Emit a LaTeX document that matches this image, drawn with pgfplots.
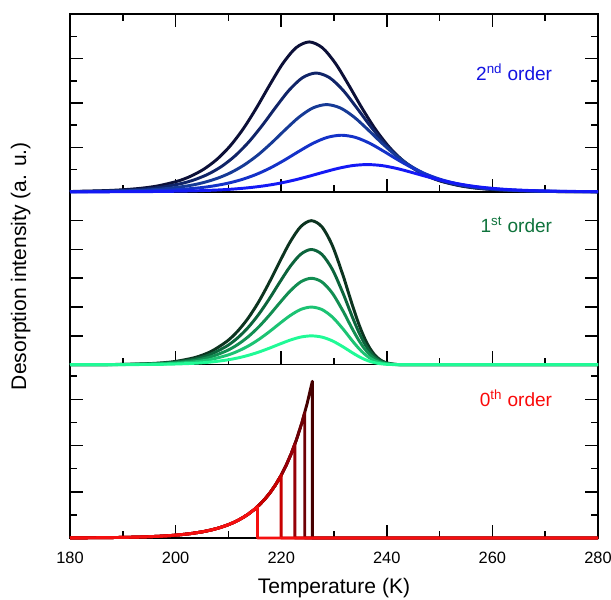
\documentclass[border=0pt]{standalone}
\usepackage{fontspec}
\setmainfont{Liberation Sans}
\usepackage{pgfplots}
\pgfplotsset{compat=1.18}
\definecolor{b1}{RGB}{12,16,56}
\definecolor{b2}{RGB}{16,36,104}
\definecolor{b3}{RGB}{22,58,150}
\definecolor{b4}{RGB}{20,50,200}
\definecolor{b5}{RGB}{20,25,245}
\definecolor{g5}{RGB}{12,52,32}
\definecolor{g4}{RGB}{12,100,60}
\definecolor{g3}{RGB}{18,142,82}
\definecolor{g2}{RGB}{28,195,115}
\definecolor{g1}{RGB}{32,250,150}
\definecolor{r5}{RGB}{70,0,0}
\definecolor{r4}{RGB}{110,0,5}
\definecolor{r3}{RGB}{150,0,8}
\definecolor{r2}{RGB}{200,0,0}
\definecolor{r1}{RGB}{245,15,15}
\definecolor{lblue}{RGB}{20,20,225}
\definecolor{lgreen}{RGB}{15,115,60}
\definecolor{lred}{RGB}{250,10,10}
\begin{document}
\begin{tikzpicture}
\pgfplotsset{
  tpd/.style={scale only axis, width=396pt, xmin=180, xmax=280, clip=false,
    xtick={180,200,...,280}, minor xtick={190,210,...,270},
    major tick length=10pt, minor tick length=5pt,
    tick align=inside, ytick pos=both, yticklabels={},
    axis line style={line width=1.2pt},
    every tick/.style={black, line width=1.2pt},
    /pgf/number format/assume math mode=true,
    tick label style={font=\fontsize{12.3}{14}\selectfont},
    every axis plot/.append style={line width=2.2pt, line join=round}},
}
% ---------------- bottom: 0th order
\begin{axis}[tpd, name=bot, at={(0,0)}, anchor=south west, height=130pt,
  ymin=0, ymax=7.5, ytick={2,4,6}, minor ytick={1,3,5,7}, xtick pos=bottom,
  xticklabel style={yshift=-7.3pt},
  xlabel={Temperature (K)},
  xlabel style={font=\fontsize{15.8}{18}\selectfont, at={(axis description cs:0.5,0)}, anchor=base, yshift=-41.25pt}]
\coordinate (O) at (rel axis cs:0,0);
\addplot[r5, sharp plot] coordinates {(180,0.0055) (182.9,0.0087) (185.9,0.0138) (188.9,0.0219) (190.9,0.0299) (192.9,0.0407) (194.9,0.0555) (196.9,0.0757) (198.9,0.1032) (200.9,0.1407) (202.9,0.1919) (204.9,0.2616) (205.9,0.3054) (206.9,0.3566) (207.9,0.4164) (208.9,0.4863) (209.9,0.5678) (210.9,0.6630) (211.9,0.7741) (212.9,0.9039) (213.9,1.0554) (214.9,1.2324) (215.9,1.4390) (216.9,1.6803) (217.9,1.9620) (218.9,2.2909) (219.9,2.6750) (220.9,3.1235) (221.9,3.6472) (222.9,4.2587) (223.9,4.9727) (224.9,5.8065) (225.9,6.78) (225.9,0) (280,0)};
\addplot[r4, sharp plot] coordinates {(180,0.0055) (182.9,0.0087) (185.9,0.0138) (188.9,0.0219) (190.9,0.0299) (192.9,0.0407) (194.9,0.0555) (196.9,0.0757) (198.9,0.1032) (200.9,0.1407) (202.9,0.1919) (204.9,0.2616) (205.9,0.3054) (206.9,0.3566) (207.9,0.4164) (208.9,0.4863) (209.9,0.5678) (210.9,0.6630) (211.9,0.7741) (212.9,0.9039) (213.9,1.0554) (214.9,1.2324) (215.9,1.4390) (216.9,1.6803) (217.9,1.9620) (218.9,2.2909) (219.9,2.6750) (220.9,3.1235) (221.9,3.6472) (222.9,4.2587) (223.9,4.9727) (224.46,5.424) (224.46,0) (280,0)};
\addplot[r3, sharp plot] coordinates {(180,0.0055) (182.9,0.0087) (185.9,0.0138) (188.9,0.0219) (190.9,0.0299) (192.9,0.0407) (194.9,0.0555) (196.9,0.0757) (198.9,0.1032) (200.9,0.1407) (202.9,0.1919) (204.9,0.2616) (205.9,0.3054) (206.9,0.3566) (207.9,0.4164) (208.9,0.4863) (209.9,0.5678) (210.9,0.6630) (211.9,0.7741) (212.9,0.9039) (213.9,1.0554) (214.9,1.2324) (215.9,1.4390) (216.9,1.6803) (217.9,1.9620) (218.9,2.2909) (219.9,2.6750) (220.9,3.1235) (221.9,3.6472) (222.604,4.068) (222.604,0) (280,0)};
\addplot[r2, sharp plot] coordinates {(180,0.0055) (182.9,0.0087) (185.9,0.0138) (188.9,0.0219) (190.9,0.0299) (192.9,0.0407) (194.9,0.0555) (196.9,0.0757) (198.9,0.1032) (200.9,0.1407) (202.9,0.1919) (204.9,0.2616) (205.9,0.3054) (206.9,0.3566) (207.9,0.4164) (208.9,0.4863) (209.9,0.5678) (210.9,0.6630) (211.9,0.7741) (212.9,0.9039) (213.9,1.0554) (214.9,1.2324) (215.9,1.4390) (216.9,1.6803) (217.9,1.9620) (218.9,2.2909) (219.9,2.6750) (219.988,2.712) (219.988,0) (280,0)};
\addplot[r1, sharp plot] coordinates {(180,0.0055) (182.9,0.0087) (185.9,0.0138) (188.9,0.0219) (190.9,0.0299) (192.9,0.0407) (194.9,0.0555) (196.9,0.0757) (198.9,0.1032) (200.9,0.1407) (202.9,0.1919) (204.9,0.2616) (205.9,0.3054) (206.9,0.3566) (207.9,0.4164) (208.9,0.4863) (209.9,0.5678) (210.9,0.6630) (211.9,0.7741) (212.9,0.9039) (213.9,1.0554) (214.9,1.2324) (215.517,1.356) (215.517,0) (280,0)};
\node[anchor=base east, text=lred, font=\fontsize{14.3}{16}\selectfont] at (rel axis cs:0.922,0.757) {0\textsuperscript{th} order};
\end{axis}
% ---------------- middle: 1st order
\begin{axis}[tpd, name=mid, at={(bot.north west)}, anchor=south west, height=129.6pt,
  ymin=0, ymax=6, ytick={1,2,3,4,5}, xtick pos=bottom, xticklabels={},
  ylabel={Desorption intensity (a. u.)},
  ylabel style={font=\fontsize{15.8}{18}\selectfont, at={(axis description cs:-0.0936,0.57)}, anchor=center, rotate=0}]
\addplot[g5, smooth] coordinates {(180,0) (185.7,0.003) (190.7,0.0128) (195.7,0.0427) (199.7,0.106) (203.7,0.25) (206.7,0.458) (209.7,0.8085) (211.7,1.1525) (213.7,1.6045) (215.7,2.1715) (217.7,2.842) (219.7,3.5695) (221.7,4.2645) (223.7,4.793) (225.7,5) (227.7,4.789) (229.7,4.132) (231.7,3.105) (232.7,2.5215) (233.7,1.9435) (234.7,1.4105) (235.7,0.9555) (236.7,0.5975) (237.7,0.341) (238.7,0.175) (239.7,0.0795) (241.2,0.0185) (242.7,0.003) (245.7,0) (280,0)};
\addplot[g4, smooth] coordinates {(180,0) (185.7,0.0024) (190.7,0.0102) (195.7,0.0342) (199.7,0.0848) (203.7,0.20) (206.7,0.3664) (209.7,0.6468) (211.7,0.922) (213.7,1.2836) (215.7,1.7372) (217.7,2.2736) (219.7,2.8556) (221.7,3.4116) (223.7,3.8344) (225.7,4) (227.7,3.8312) (229.7,3.3056) (231.7,2.484) (232.7,2.0172) (233.7,1.5548) (234.7,1.1284) (235.7,0.7644) (236.7,0.478) (237.7,0.2728) (238.7,0.14) (239.7,0.0636) (241.2,0.0148) (242.7,0.0024) (245.7,0) (280,0)};
\addplot[g3, smooth] coordinates {(180,0) (185.7,0.0018) (190.7,0.0077) (195.7,0.0256) (199.7,0.0636) (203.7,0.15) (206.7,0.2748) (209.7,0.4851) (211.7,0.6915) (213.7,0.9627) (215.7,1.3029) (217.7,1.7052) (219.7,2.1417) (221.7,2.5587) (223.7,2.8758) (225.7,3) (227.7,2.8734) (229.7,2.4792) (231.7,1.863) (232.7,1.5129) (233.7,1.1661) (234.7,0.8463) (235.7,0.5733) (236.7,0.3585) (237.7,0.2046) (238.7,0.105) (239.7,0.0477) (241.2,0.0111) (242.7,0.0018) (245.7,0) (280,0)};
\addplot[g2, smooth] coordinates {(180,0) (185.7,0.0012) (190.7,0.0051) (195.7,0.0171) (199.7,0.0424) (203.7,0.10) (206.7,0.1832) (209.7,0.3234) (211.7,0.461) (213.7,0.6418) (215.7,0.8686) (217.7,1.1368) (219.7,1.4278) (221.7,1.7058) (223.7,1.9172) (225.7,2) (227.7,1.9156) (229.7,1.6528) (231.7,1.242) (232.7,1.0086) (233.7,0.7774) (234.7,0.5642) (235.7,0.3822) (236.7,0.239) (237.7,0.1364) (238.7,0.07) (239.7,0.0318) (241.2,0.0074) (242.7,0.0012) (245.7,0) (280,0)};
\addplot[g1, smooth] coordinates {(180,0) (185.7,0.0006) (190.7,0.0026) (195.7,0.0085) (199.7,0.0212) (203.7,0.05) (206.7,0.0916) (209.7,0.1617) (211.7,0.2305) (213.7,0.3209) (215.7,0.4343) (217.7,0.5684) (219.7,0.7139) (221.7,0.8529) (223.7,0.9586) (225.7,1) (227.7,0.9578) (229.7,0.8264) (231.7,0.621) (232.7,0.5043) (233.7,0.3887) (234.7,0.2821) (235.7,0.1911) (236.7,0.1195) (237.7,0.0682) (238.7,0.035) (239.7,0.0159) (241.2,0.0037) (242.7,0.0006) (245.7,0) (280,0)};
\node[anchor=base east, text=lgreen, font=\fontsize{14.3}{16}\selectfont] at (rel axis cs:0.922,0.767) {1\textsuperscript{st} order};
\end{axis}
% ---------------- top: 2nd order
\begin{axis}[tpd, name=top, at={(mid.north west)}, anchor=south west, height=133.3pt,
  ymin=0, ymax=8, ytick={2,4,6}, minor ytick={1,3,5,7}, xticklabels={}]
\addplot[b1, smooth] coordinates {(180,0.015) (181.55,0.025) (187.8,0.067) (192.8,0.147) (196.55,0.266) (200.3,0.477) (202.8,0.699) (205.3,1.016) (207.8,1.459) (210.3,2.059) (212.8,2.835) (215.3,3.774) (217.8,4.803) (220.3,5.776) (222.8,6.487) (225.3,6.75) (227.8,6.487) (230.3,5.776) (232.8,4.803) (235.3,3.774) (237.8,2.835) (240.3,2.059) (242.8,1.459) (245.3,1.016) (247.8,0.699) (250.3,0.477) (254.05,0.266) (257.8,0.147) (262.8,0.067) (269.05,0.025) (275.3,0.009) (280,0.003)};
\addplot[b2, smooth] coordinates {(180,0.012) (182.01,0.019) (188.38,0.053) (193.48,0.117) (197.30,0.211) (201.12,0.378) (203.67,0.554) (206.22,0.805) (208.77,1.156) (211.31,1.632) (213.86,2.247) (216.41,2.991) (218.96,3.807) (221.50,4.578) (224.05,5.142) (226.6,5.35) (229.15,5.142) (231.70,4.578) (234.24,3.807) (236.79,2.991) (239.34,2.247) (241.89,1.632) (244.43,1.156) (246.98,0.805) (249.53,0.554) (252.08,0.378) (255.90,0.211) (259.72,0.117) (264.82,0.053) (271.19,0.019) (277.56,0.007) (280,0.004)};
\addplot[b3, smooth] coordinates {(180,0.008) (182.85,0.014) (189.38,0.039) (194.61,0.086) (198.53,0.155) (202.46,0.278) (205.07,0.407) (207.68,0.592) (210.30,0.849) (212.91,1.199) (215.53,1.650) (218.14,2.197) (220.76,2.797) (223.37,3.363) (225.99,3.777) (228.6,3.93) (231.21,3.777) (233.83,3.363) (236.44,2.797) (239.06,2.197) (241.67,1.650) (244.29,1.199) (246.90,0.849) (249.52,0.592) (252.13,0.407) (254.74,0.278) (258.67,0.155) (262.59,0.086) (267.82,0.039) (274.35,0.014) (280,0.006)};
\addplot[b4, smooth] coordinates {(180,0.005) (184.10,0.009) (190.86,0.025) (196.26,0.056) (200.32,0.100) (204.37,0.180) (207.08,0.264) (209.78,0.384) (212.48,0.551) (215.18,0.778) (217.89,1.071) (220.59,1.426) (223.29,1.815) (225.99,2.182) (228.70,2.451) (231.4,2.55) (234.10,2.451) (236.81,2.182) (239.51,1.815) (242.21,1.426) (244.91,1.071) (247.62,0.778) (250.32,0.551) (253.02,0.384) (255.72,0.264) (258.43,0.180) (262.48,0.100) (266.54,0.056) (271.94,0.025) (278.70,0.009) (280,0.007)};
\addplot[b5, smooth] coordinates {(180,0.002) (187.0,0.004) (194.05,0.012) (199.68,0.027) (203.91,0.048) (208.13,0.087) (210.95,0.127) (213.76,0.185) (216.58,0.266) (219.40,0.375) (222.22,0.517) (225.03,0.688) (227.85,0.875) (230.67,1.052) (233.48,1.182) (236.3,1.23) (239.12,1.182) (241.93,1.052) (244.75,0.875) (247.57,0.688) (250.38,0.517) (253.20,0.375) (256.02,0.266) (258.84,0.185) (261.65,0.127) (264.47,0.087) (268.69,0.048) (272.92,0.027) (278.55,0.012) (280,0.010)};
\node[anchor=base east, text=lblue, font=\fontsize{14.3}{16}\selectfont] at (rel axis cs:0.922,0.629) {2\textsuperscript{nd} order};
\end{axis}
\pgfresetboundingbox
\path[use as bounding box] ([shift={(-52.5pt,-46.5pt)}]O) rectangle ([shift={(405.75pt,403.5pt)}]O);
\end{tikzpicture}
\end{document}
